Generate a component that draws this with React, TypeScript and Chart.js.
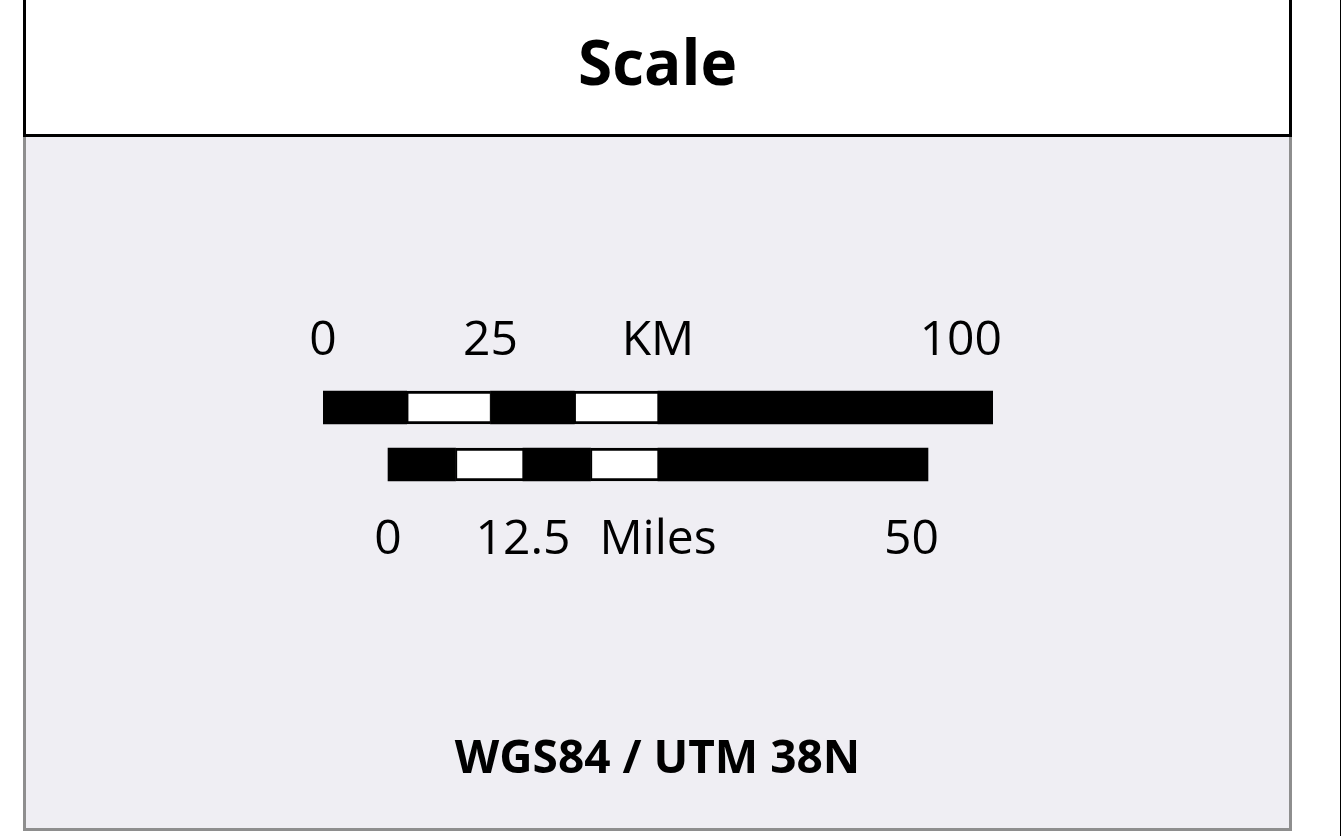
import React, { useEffect, useRef } from 'react';
import { Chart, registerables } from 'chart.js';

Chart.register(...registerables);

// ---- data ----
const rows = ['KM', 'Miles'];
const kmBreaks = [0, 12.5, 25, 37.5, 50, 100];
const miBreaks = [0, 6.25, 12.5, 18.75, 25, 50];
const kmTickValues = [0, 25, 50, 100];
const kmTickLabels = ['0', '25', 'KM', '100'];
const miTickValues = [0, 12.5, 25, 50];
const miTickLabels = ['0', '12.5', 'Miles', '50'];
const titleText = 'Scale';
const footerText = 'WGS84 / UTM 38N';

// ---- layout / style ----
const W = 1342;
const H = 836;
const BAR_THICK = 33;
const MI_AXIS_MIN = -6.02;
const MI_AXIS_MAX = 56.02;
const LABEL_FONT = '48px "Open Sans", sans-serif';

function makeDatasets() {
  const ds: any[] = [];
  for (let i = 0; i < kmBreaks.length - 1; i++) {
    const white = i % 2 === 1;
    ds.push({
      label: 'km' + i,
      data: [[kmBreaks[i], kmBreaks[i + 1]], null],
      xAxisID: 'xKm',
      backgroundColor: white ? '#ffffff' : '#000000',
      borderColor: '#000000',
      borderWidth: white ? { top: 3, bottom: 3, left: 2, right: 1 } : 0,
      borderSkipped: false,
      grouped: false,
      barThickness: BAR_THICK,
    });
  }
  for (let i = 0; i < miBreaks.length - 1; i++) {
    const white = i % 2 === 1;
    ds.push({
      label: 'mi' + i,
      data: [null, [miBreaks[i], miBreaks[i + 1]]],
      xAxisID: 'xMi',
      backgroundColor: white ? '#ffffff' : '#000000',
      borderColor: '#000000',
      borderWidth: white ? { top: 3, bottom: 3, left: 2, right: 1 } : 0,
      borderSkipped: false,
      grouped: false,
      barThickness: BAR_THICK,
    });
  }
  return ds;
}

const labelPlugin = {
  id: 'scaleLabels',
  afterDatasetsDraw(chart: any) {
    const ctx = chart.ctx;
    const yScale = chart.scales.y;
    const km = chart.scales.xKm;
    const mi = chart.scales.xMi;
    ctx.save();
    ctx.font = LABEL_FONT;
    ctx.fillStyle = '#000';
    ctx.textBaseline = 'alphabetic';
    const kmTop = yScale.getPixelForValue(0) - BAR_THICK / 2;
    kmTickValues.forEach((v, i) => {
      const last = i === kmTickValues.length - 1;
      ctx.textAlign = last ? 'right' : 'center';
      const x = km.getPixelForValue(v) + (last ? 9 : 0);
      ctx.fillText(kmTickLabels[i], x, kmTop - 36);
    });
    const miBottom = yScale.getPixelForValue(1) + BAR_THICK / 2;
    miTickValues.forEach((v, i) => {
      const last = i === miTickValues.length - 1;
      ctx.textAlign = last ? 'right' : 'center';
      const x = mi.getPixelForValue(v) + (last ? 11 : 0);
      ctx.fillText(miTickLabels[i], x, miBottom + 73);
    });
    ctx.restore();
  },
};

function ScaleChart() {
  const ref = useRef<HTMLCanvasElement | null>(null);
  useEffect(() => {
    if (!ref.current) return;
    const chart = new Chart(ref.current, {
      type: 'bar',
      data: { labels: rows, datasets: makeDatasets() },
      options: {
        indexAxis: 'y',
        animation: false,
        responsive: false,
        maintainAspectRatio: false,
        layout: { padding: { left: 323, right: 349, top: 379, bottom: 343 } },
        plugins: { legend: { display: false }, tooltip: { enabled: false }, title: { display: false } },
        scales: {
          y: { type: 'category', display: false, offset: true, grid: { display: false } },
          xKm: { type: 'linear', axis: 'x', position: 'bottom', min: 0, max: 100, display: false },
          xMi: { type: 'linear', axis: 'x', position: 'bottom', min: MI_AXIS_MIN, max: MI_AXIS_MAX, display: false },
        },
      } as any,
      plugins: [labelPlugin],
    });
    return () => chart.destroy();
  }, []);
  return (
    <canvas
      ref={ref}
      width={W}
      height={H}
      style={{ position: 'absolute', left: 0, top: 0, width: W, height: H, zIndex: 2 }}
    />
  );
}

export default function App() {
  return (
    <div
      style={{
        position: 'fixed',
        left: 0,
        top: 0,
        width: W,
        height: H,
        background: '#ffffff',
        overflow: 'hidden',
        fontFamily: '"Open Sans", sans-serif',
      }}
    >
      <div
        style={{
          position: 'absolute',
          left: 23,
          top: -3,
          width: 1269,
          height: 140,
          boxSizing: 'border-box',
          border: '3px solid #000',
          background: '#ffffff',
        }}
      />
      <div
        style={{
          position: 'absolute',
          left: 23,
          top: 137,
          width: 1269,
          height: 694,
          boxSizing: 'border-box',
          borderLeft: '3px solid #8e8e8e',
          borderRight: '3px solid #8e8e8e',
          borderBottom: '3px solid #8e8e8e',
          background: '#efeef3',
        }}
      />
      <div style={{ position: 'absolute', left: 1340, top: 0, width: 1, height: H, background: '#000' }} />
      <div
        style={{
          position: 'absolute',
          left: 23,
          width: 1269,
          top: 85 - 0.888 * 62,
          fontSize: 62,
          lineHeight: 1,
          fontWeight: 700,
          textAlign: 'center',
          color: '#000',
          zIndex: 3,
        }}
      >
        {titleText}
      </div>
      <div
        style={{
          position: 'absolute',
          left: 23,
          width: 1269,
          top: 773 - 0.888 * 46,
          fontSize: 46,
          lineHeight: 1,
          fontWeight: 700,
          textAlign: 'center',
          color: '#000',
          zIndex: 3,
          whiteSpace: 'nowrap',
        }}
      >
        {footerText}
      </div>
      <ScaleChart />
    </div>
  );
}
